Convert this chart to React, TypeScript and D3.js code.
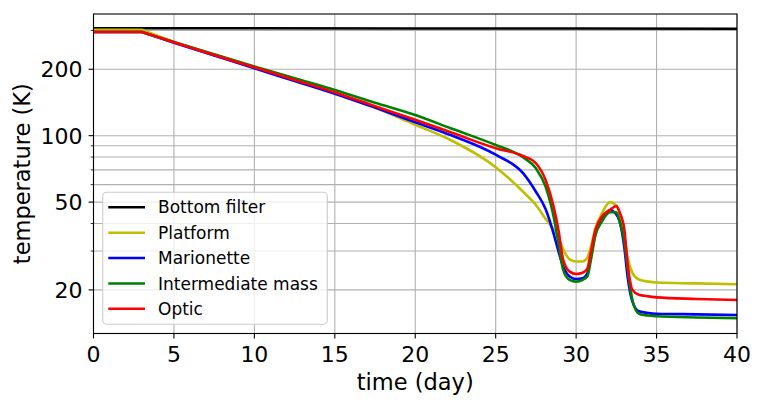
import React from "react";
import * as d3 from "d3";

const days = [0, 3, 5, 7.5, 10, 12.5, 15, 17.5, 20, 22.2, 25, 26.7, 27.5, 28.1, 28.6, 28.9, 29.2, 29.6, 30, 30.4, 30.7, 30.9, 31.2, 31.6, 32.1, 32.5, 32.7, 33, 33.2, 33.5, 33.9, 34.5, 35, 37.5, 40];

const bottomFilterDays = [0, 10, 20, 30, 40];
const bottomFilter = [307, 307, 306, 306, 305];

const platform = [302, 302, 266, 233, 204, 178, 156, 134, 112, 95.6, 72, 55.7, 48.5, 42, 37.5, 34.5, 30.5, 27.5, 26.9, 26.9, 28, 31, 38, 44.5, 50, 48, 45, 35, 28, 23.9, 22.3, 21.8, 21.6, 21.4, 21.2];
const marionette = [295, 295, 264, 231, 202, 177, 155, 134, 115, 100.7, 82, 67.6, 55.7, 46.5, 36, 30, 25.5, 23, 22.4, 22.6, 23.8, 27.8, 36, 41.5, 46, 44, 41, 31, 23, 17.7, 16, 15.7, 15.6, 15.5, 15.4];
const intermediateMass = [295, 295, 266, 234, 206, 182, 161, 141, 124, 108, 90.7, 79.8, 71.1, 58.8, 43, 32.6, 24.6, 22.2, 21.8, 22.2, 23, 26.9, 35.4, 40.8, 45, 45, 41, 33, 25, 18, 15.6, 15.3, 15.2, 15.0, 14.9];
const optic = [295, 295, 265, 232, 204, 179, 157, 136, 118, 103.6, 87.7, 80.9, 75, 63, 47.7, 37.4, 27.3, 24.2, 23.6, 23.9, 25, 29.3, 37.4, 43, 46, 48, 45, 37.4, 26.4, 20, 19, 18.7, 18.5, 18.2, 18.0];

const seriesNames = ["Bottom filter", "Platform", "Marionette", "Intermediate mass", "Optic"];
const seriesColors = ["#000000", "#bfbf00", "#0000ff", "#008000", "#ff0000"];

const xTicks = [0, 5, 10, 15, 20, 25, 30, 35, 40];
const yMajorTicks = [20, 50, 100, 200];
const yMinorTicks = [30, 40, 60, 70, 80, 90, 300];

export default function App() {
  const W = 763, H = 405;
  const left = 93.5, right = 737, top = 14, bottom = 333.5;
  const x = d3.scaleLinear().domain([0, 40]).range([left, right]);
  const y = d3.scaleLog().domain([12.69, 356]).range([bottom, top]);

  const smooth = d3
    .line<[number, number]>()
    .x((d) => x(d[0]))
    .y((d) => y(d[1]))
    .curve(d3.curveMonotoneX);
  const straight = d3
    .line<[number, number]>()
    .x((d) => x(d[0]))
    .y((d) => y(d[1]));

  const series: [number, number][][] = [
    bottomFilterDays.map((d, i) => [d, bottomFilter[i]]),
    days.map((d, i) => [d, platform[i]]),
    days.map((d, i) => [d, marionette[i]]),
    days.map((d, i) => [d, intermediateMass[i]]),
    days.map((d, i) => [d, optic[i]]),
  ];

  const pathFor = (s: [number, number][], i: number) => {
    if (i === 0) return straight(s) || "";
    const a = straight(s.slice(0, 2)) || "";
    const b = (smooth(s.slice(1)) || "").replace(/^M/, "L");
    return a + b;
  };

  const font = "DejaVu Sans, sans-serif";
  const gridColor = "#b0b0b0";
  const legendRows = [207.3, 232.7, 258, 283.5, 308.7];

  return (
    <svg width={W} height={H} style={{ position: "absolute", left: 0, top: 0 }} fontFamily={font}>
      <rect x={0} y={0} width={W} height={H} fill="white" />
      <defs>
        <clipPath id="plotclip">
          <rect x={left} y={top} width={right - left} height={bottom - top} />
        </clipPath>
      </defs>
      {xTicks.map((t) => (
        <line key={"gx" + t} x1={x(t)} x2={x(t)} y1={top} y2={bottom} stroke={gridColor} strokeWidth={1.1} />
      ))}
      {[...yMajorTicks, ...yMinorTicks].map((t) => (
        <line key={"gy" + t} x1={left} x2={right} y1={y(t)} y2={y(t)} stroke={gridColor} strokeWidth={1.1} />
      ))}
      <g clipPath="url(#plotclip)">
        {series.map((s, i) => (
          <path key={i} d={pathFor(s, i)} fill="none" stroke={seriesColors[i]} strokeWidth={2.6} strokeLinejoin="round" strokeLinecap="square" />
        ))}
      </g>
      <rect x={left} y={top} width={right - left} height={bottom - top} fill="none" stroke="#000" strokeWidth={1.1} />
      {xTicks.map((t) => (
        <g key={"xt" + t}>
          <line x1={x(t)} x2={x(t)} y1={bottom} y2={bottom + 4.9} stroke="#000" strokeWidth={1.1} />
          <text x={x(t)} y={bottom + 28.5} textAnchor="middle" fontSize={22} fill="#000">
            {t}
          </text>
        </g>
      ))}
      {yMajorTicks.map((t) => (
        <g key={"yt" + t}>
          <line x1={left - 4.9} x2={left} y1={y(t)} y2={y(t)} stroke="#000" strokeWidth={1.1} />
          <text x={left - 11} y={y(t) + 8} textAnchor="end" fontSize={22} fill="#000">
            {t}
          </text>
        </g>
      ))}
      {yMinorTicks.map((t) => (
        <line key={"ym" + t} x1={left - 2.8} x2={left} y1={y(t)} y2={y(t)} stroke="#000" strokeWidth={0.8} />
      ))}
      <text x={(left + right) / 2} y={390} textAnchor="middle" fontSize={22.5} fill="#000">
        time (day)
      </text>
      <text transform={`translate(30, ${(top + bottom) / 2}) rotate(-90)`} textAnchor="middle" fontSize={22.5} fill="#000">
        temperature (K)
      </text>
      <rect x={102.7} y={192.3} width={224.6} height={132} rx={4} fill="white" fillOpacity={0.8} stroke="#cccccc" strokeWidth={1.1} />
      {seriesNames.map((n, i) => (
        <g key={"lg" + i}>
          <line x1={108.3} x2={145} y1={legendRows[i]} y2={legendRows[i]} stroke={seriesColors[i]} strokeWidth={2.6} />
          <text x={158} y={legendRows[i] + 6} fontSize={17} fill="#000">
            {n}
          </text>
        </g>
      ))}
    </svg>
  );
}
